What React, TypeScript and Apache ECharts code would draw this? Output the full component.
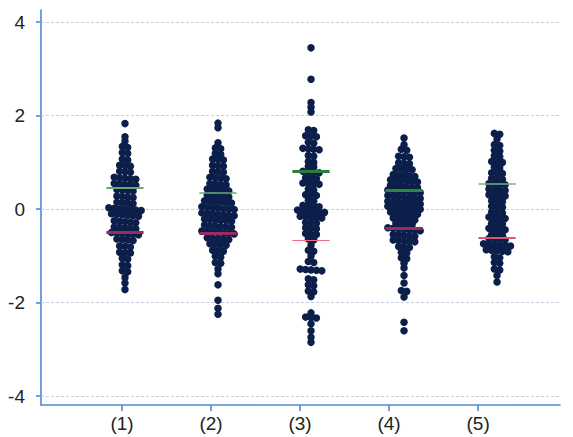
import React, { useEffect, useRef } from "react";
import * as echarts from "echarts";

const categories = ["(1)", "(2)", "(3)", "(4)", "(5)"];
const yTicks = [-4, -2, 0, 2, 4];

const group1 = [
  1.83, 1.55, 1.45, 1.34, 1.32, 1.21, 1.19, 1.07, 1.05, 0.94, 0.92, 0.93, 0.81, 0.79, 0.8,
  0.67, 0.65, 0.66, 0.68, 0.64, 0.54, 0.52, 0.53, 0.55, 0.51, 0.41, 0.39, 0.4, 0.42,
  0.27, 0.25, 0.26, 0.28, 0.14, 0.12, 0.13, 0.15, 0.01, -0.01, 0.0, 0.02, -0.02, 0.03, -0.03,
  -0.12, -0.14, -0.13, -0.11, -0.15, -0.1, -0.26, -0.28, -0.27, -0.25, -0.29,
  -0.39, -0.41, -0.4, -0.38, -0.42, -0.52, -0.54, -0.53, -0.51, -0.55, -0.5,
  -0.65, -0.67, -0.66, -0.64, -0.79, -0.81, -0.8, -0.92, -0.94, -0.93, -1.05, -1.07,
  -1.19, -1.21, -1.32, -1.34, -1.46, -1.58, -1.72,
];

const group2 = [
  1.84, 1.74, 1.42, 1.31, 1.29, 1.19, 1.17, 1.07, 1.05, 1.06, 0.94, 0.92, 0.93, 0.81, 0.79, 0.8,
  0.68, 0.66, 0.67, 0.65, 0.55, 0.53, 0.54, 0.52, 0.42, 0.4, 0.41, 0.43, 0.39,
  0.29, 0.27, 0.28, 0.3, 0.26, 0.16, 0.14, 0.15, 0.17, 0.13, 0.18,
  0.03, 0.01, 0.02, 0.04, 0.0, 0.05, -0.01, -0.1, -0.12, -0.11, -0.09, -0.13, -0.08, -0.14,
  -0.23, -0.25, -0.24, -0.22, -0.26, -0.21, -0.36, -0.38, -0.37, -0.35, -0.39, -0.34,
  -0.49, -0.51, -0.5, -0.48, -0.52, -0.47, -0.53, -0.62, -0.64, -0.63, -0.61, -0.65,
  -0.75, -0.77, -0.76, -0.74, -0.88, -0.9, -0.89, -1.01, -1.03, -1.14, -1.16,
  -1.28, -1.38, -1.62, -1.95, -2.12, -2.25,
];

const group3 = [
  3.45, 2.78, 2.28, 2.18, 2.08, 1.7, 1.68, 1.57, 1.55, 1.56, 1.43, 1.41,
  1.29, 1.27, 1.28, 1.3, 1.15, 1.13, 1.02, 1.0, 0.92, 0.9, 0.8, 0.78, 0.79, 0.81,
  0.67, 0.65, 0.66, 0.55, 0.53, 0.54, 0.56, 0.43, 0.41, 0.31, 0.29, 0.3, 0.19, 0.17,
  0.07, 0.05, 0.06, 0.08, -0.04, -0.06, -0.05, -0.03, -0.07, -0.02,
  -0.16, -0.18, -0.17, -0.15, -0.19, -0.28, -0.3, -0.29, -0.4, -0.42, -0.41,
  -0.52, -0.54, -0.53, -0.64, -0.66, -0.77, -0.88, -0.9, -1.0, -1.12, -1.14,
  -1.29, -1.31, -1.3, -1.28, -1.32, -1.49, -1.51, -1.62, -1.64, -1.75, -1.77, -1.87,
  -2.22, -2.31, -2.33, -2.32, -2.45, -2.6, -2.74, -2.85,
];

const group4 = [
  1.52, 1.38, 1.28, 1.26, 1.13, 1.11, 1.12, 0.99, 0.97, 0.98, 0.87, 0.85, 0.86, 0.84,
  0.73, 0.71, 0.72, 0.74, 0.7, 0.61, 0.59, 0.6, 0.62, 0.58, 0.63,
  0.49, 0.47, 0.48, 0.5, 0.46, 0.51, 0.39, 0.37, 0.38, 0.4, 0.36, 0.41, 0.35,
  0.27, 0.25, 0.26, 0.28, 0.24, 0.29, 0.23, 0.15, 0.13, 0.14, 0.16, 0.12, 0.17, 0.11,
  0.04, 0.02, 0.03, 0.05, 0.01, 0.06, 0.0, -0.08, -0.1, -0.09, -0.07, -0.11, -0.06,
  -0.2, -0.22, -0.21, -0.19, -0.23, -0.31, -0.33, -0.32, -0.3,
  -0.42, -0.44, -0.43, -0.41, -0.45, -0.4, -0.46, -0.55, -0.57, -0.56, -0.54, -0.58,
  -0.67, -0.69, -0.68, -0.66, -0.7, -0.8, -0.82, -0.81, -0.92, -0.94, -1.04, -1.06,
  -1.16, -1.26, -1.42, -1.58, -1.76, -1.74, -1.88, -2.42, -2.6,
];

const group5 = [
  1.62, 1.6, 1.5, 1.38, 1.36, 1.26, 1.24, 1.14, 1.12, 1.02, 1.0, 1.01, 0.9, 0.88,
  0.78, 0.76, 0.77, 0.66, 0.64, 0.65, 0.54, 0.52, 0.53, 0.55, 0.42, 0.4, 0.41, 0.43,
  0.3, 0.28, 0.29, 0.31, 0.18, 0.16, 0.17, 0.06, 0.04, 0.05, -0.06, -0.08, -0.07,
  -0.18, -0.2, -0.19, -0.17, -0.3, -0.32, -0.31, -0.42, -0.44, -0.43, -0.41,
  -0.54, -0.56, -0.55, -0.64, -0.66, -0.65, -0.63, -0.76, -0.78, -0.77, -0.75, -0.79, -0.74,
  -0.88, -0.9, -0.89, -0.87, -0.91, -1.02, -1.04, -1.14, -1.16, -1.28, -1.3, -1.42, -1.56,
];

const groups = [group1, group2, group3, group4, group5];

// upper (green) and lower (red) reference lines per group
const upperLine = [0.45, 0.36, 0.8, 0.41, 0.55];
const lowerLine = [-0.5, -0.51, -0.66, -0.41, -0.62];

const upperColors = ["#66aa70", "#66aa70", "#2b7d3c", "#2b8a3c", "#72b47c"];
const upperWidths = [2, 1.5, 3, 3, 1.5];
const lowerColors = ["#9a2b5e", "#9a2b5e", "#f26a82", "#9a2b5e", "#dc566f"];
const lowerWidths = [3, 3, 1.2, 3, 2];

const ROW_TOL = 0.08;
const STEP = 0.058;
const HALF_LINE = 0.2;
const FONT = "'Liberation Sans', Arial, sans-serif";

function layoutRows(values: number[], gx: number): number[][] {
  const sorted = [...values].sort((a, b) => b - a);
  const out: number[][] = [];
  let i = 0;
  while (i < sorted.length) {
    const start = sorted[i];
    let j = i;
    while (j < sorted.length && start - sorted[j] <= ROW_TOL + 1e-9) j++;
    const n = j - i;
    for (let k = 0; k < n; k++) {
      out.push([gx + (k - (n - 1) / 2) * STEP, sorted[i + k]]);
    }
    i = j;
  }
  return out;
}

export default function App() {
  const ref = useRef<HTMLDivElement>(null);
  useEffect(() => {
    if (!ref.current) return;
    const chart = echarts.init(ref.current, null, { renderer: "svg" });
    const dots: number[][] = [];
    groups.forEach((g, idx) => {
      layoutRows(g, idx + 1).forEach((p) => dots.push(p));
    });
    const lineData: any[] = [];
    categories.forEach((_, idx) => {
      const gx = idx + 1;
      lineData.push({
        coords: [[gx - HALF_LINE, upperLine[idx]], [gx + HALF_LINE, upperLine[idx]]],
        lineStyle: { color: upperColors[idx], width: upperWidths[idx], opacity: 1 },
      });
      lineData.push({
        coords: [[gx - HALF_LINE, lowerLine[idx]], [gx + HALF_LINE, lowerLine[idx]]],
        lineStyle: { color: lowerColors[idx], width: lowerWidths[idx], opacity: 1 },
      });
    });
    const tickVals = categories.map((_, i) => i + 1);
    chart.setOption({
      animation: false,
      backgroundColor: "#ffffff",
      grid: { left: 41, right: 13, top: 10, bottom: 32, containLabel: false, outerBoundsMode: "none" },
      xAxis: [
        {
          type: "value",
          min: 0.09,
          max: 5.92,
          axisLine: { show: true, onZero: false, lineStyle: { color: "#4f8bd6", width: 1.6 } },
          axisTick: { show: true, customValues: tickVals, length: 6, lineStyle: { color: "#4f8bd6", width: 1.6 } },
          axisLabel: {
            customValues: tickVals,
            formatter: (v: number) => categories[Math.round(v) - 1] ?? "",
            color: "#222",
            fontSize: 19,
            fontFamily: FONT,
            margin: 9,
          },
          splitLine: { show: false },
        },
        {
          type: "value",
          min: 0.097,
          max: 5.677,
          show: false,
          splitLine: { show: false },
        },
      ],
      yAxis: {
        type: "value",
        min: -4.19,
        max: 4.26,
        axisLine: { show: true, onZero: false, lineStyle: { color: "#4f8bd6", width: 1.6 } },
        axisTick: { show: true, customValues: yTicks, length: 5, lineStyle: { color: "#4f8bd6", width: 1.6 } },
        axisLabel: {
          customValues: yTicks,
          color: "#222",
          fontSize: 19,
          fontFamily: FONT,
          margin: 16,
        },
        splitLine: { show: false },
      },
      series: [
        {
          type: "scatter",
          xAxisIndex: 0,
          data: [],
          z: 1,
          silent: true,
          markLine: {
            silent: true,
            z: 1,
            symbol: ["none", "none"],
            label: { show: false },
            lineStyle: { color: "#c3cde0", type: [3, 2], width: 1.2 },
            data: yTicks.map((v) => ({ yAxis: v })),
          },
        },
        {
          type: "scatter",
          xAxisIndex: 1,
          data: dots,
          symbolSize: 7.5,
          itemStyle: { color: "#0c1f4a", opacity: 1 },
          z: 3,
        },
        {
          type: "lines",
          coordinateSystem: "cartesian2d",
          xAxisIndex: 1,
          yAxisIndex: 0,
          data: lineData,
          z: 4,
        },
      ],
    });
    return () => chart.dispose();
  }, []);
  return (
    <div
      ref={ref}
      style={{ position: "fixed", left: 0, top: 0, width: 573, height: 437 }}
    />
  );
}
